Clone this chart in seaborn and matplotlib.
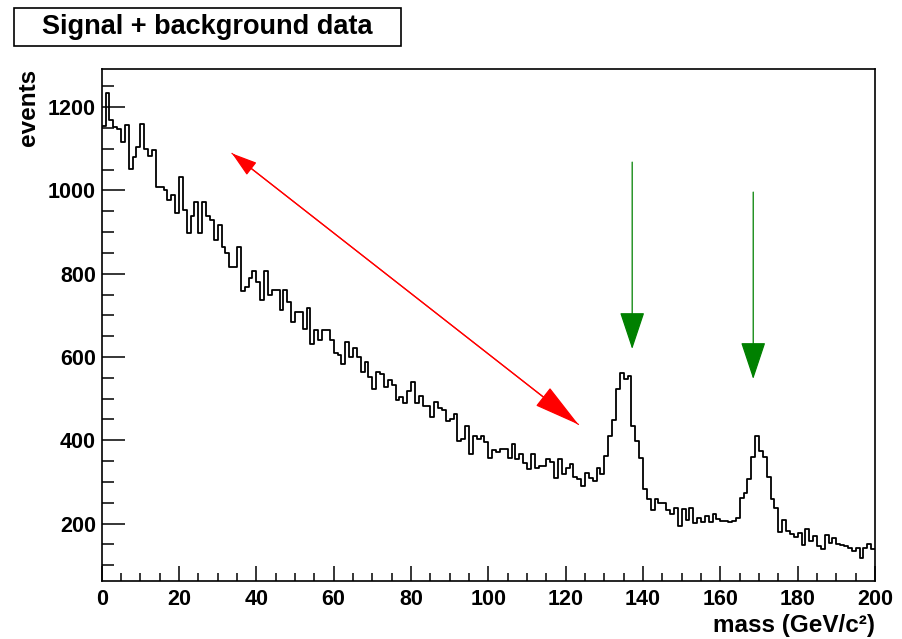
###Signal + background mass spectrum, ROOT style histogram redrawn with seaborn
import pandas as pd
import matplotlib
matplotlib.use("Agg")
import matplotlib.pyplot as plt
from matplotlib.patches import Rectangle
from matplotlib.ticker import MultipleLocator
import seaborn as sns

##Data
#bin contents, 200 bins of 1 GeV/c^2 between 0 and 200
counts = [
    1155, 1235, 1168, 1152, 1148, 1116, 1156, 1052, 1080, 1104,
    1160, 1100, 1082, 1096, 1008, 1008, 1000, 976, 988, 945,
    1032, 953, 897, 938, 973, 897, 973, 938, 928, 881,
    917, 865, 850, 817, 817, 865, 759, 769, 789, 806,
    781, 737, 807, 749, 761, 761, 713, 761, 733, 685,
    709, 709, 668, 717, 632, 665, 641, 665, 665, 641,
    610, 605, 584, 635, 601, 621, 601, 565, 587, 553,
    523, 564, 560, 529, 545, 533, 497, 505, 489, 519,
    541, 489, 507, 483, 483, 456, 491, 477, 472, 446,
    451, 463, 398, 403, 434, 368, 410, 404, 410, 395,
    357, 376, 373, 378, 378, 358, 390, 355, 366, 346,
    330, 366, 334, 339, 338, 354, 347, 310, 354, 318,
    334, 344, 313, 306, 291, 322, 310, 302, 334, 318,
    362, 411, 449, 522, 561, 548, 555, 434, 398, 358,
    282, 258, 232, 258, 250, 250, 232, 222, 238, 194,
    236, 208, 238, 202, 214, 203, 219, 203, 224, 210,
    206, 206, 204, 205, 214, 262, 274, 307, 360, 410,
    374, 360, 312, 260, 238, 180, 208, 182, 174, 168,
    178, 148, 188, 158, 170, 146, 138, 172, 154, 166,
    150, 148, 146, 142, 134, 142, 118, 142, 150, 140,
]
#bin centres, 0.5 ... 199.5
mass = [i + 0.5 for i in range(len(counts))]
hist_df = pd.DataFrame({'mass': mass, 'events': counts})

#annotation arrows (data coordinates)
red_tail = (33.7, 1089)
red_tip = (123.3, 438)
green_x = [137.2, 168.5]
green_top = [1068, 996]
green_tip = [619, 547]

##Style
sns.set_style("white")
plt.rcParams['font.family'] = ['Liberation Sans', 'DejaVu Sans']
plt.rcParams['font.weight'] = 'bold'
plt.rcParams['text.color'] = 'black'
plt.rcParams['axes.labelcolor'] = 'black'
plt.rcParams['xtick.color'] = 'black'
plt.rcParams['ytick.color'] = 'black'

fig = plt.figure(figsize=(9.02, 6.39), dpi=100)
ax = fig.add_axes([0.1127, 0.0908, 0.8574, 0.8007])

##Histogram
sns.histplot(data=hist_df, x='mass', weights='events', binwidth=1, binrange=(0, 200),
             element="step", fill=False, color="black", linewidth=1.3, ax=ax)

#ROOT-like y range: 5% margin around min and max
ymin, ymax = min(counts), max(counts)
margin = 0.05 * (ymax - ymin)
ax.set_xlim(0, 200)
ax.set_ylim(ymin - margin, ymax + margin)

##Arrows
ax.annotate("", xy=red_tip, xytext=red_tail,
            arrowprops=dict(arrowstyle="-|>,head_length=30,head_width=7.5",
                            mutation_scale=1, color="red", lw=0.9,
                            shrinkA=0, shrinkB=0))
ax.annotate("", xy=red_tail, xytext=red_tip,
            arrowprops=dict(arrowstyle="-|>,head_length=16,head_width=5",
                            mutation_scale=1, color="red", lw=0.9,
                            shrinkA=0, shrinkB=0))
for gx, gt, gb in zip(green_x, green_top, green_tip):
    ax.annotate("", xy=(gx, gb), xytext=(gx, gt),
                arrowprops=dict(arrowstyle="-|>,head_length=24,head_width=8",
                                mutation_scale=1, color="green", lw=0.9,
                                shrinkA=0, shrinkB=0))

##Axes
for side in ['top', 'right', 'bottom', 'left']:
    ax.spines[side].set_visible(True)
    ax.spines[side].set_linewidth(1.2)
    ax.spines[side].set_color('black')

ax.xaxis.set_major_locator(MultipleLocator(20))
ax.xaxis.set_minor_locator(MultipleLocator(5))
ax.yaxis.set_major_locator(MultipleLocator(200))
ax.yaxis.set_minor_locator(MultipleLocator(50))
ax.tick_params(axis='x', which='major', direction='in', length=11, width=1.1,
               labelsize=15.5, pad=6, bottom=True, top=False)
ax.tick_params(axis='x', which='minor', direction='in', length=6, width=1.1,
               bottom=True, top=False)
ax.tick_params(axis='y', which='major', direction='in', length=16.5, width=1.1,
               labelsize=15.5, pad=4, left=True, right=False)
ax.tick_params(axis='y', which='minor', direction='in', length=8.5, width=1.1,
               left=True, right=False)
for lab in ax.get_xticklabels() + ax.get_yticklabels():
    lab.set_fontweight('bold')

ax.set_xlabel("mass (GeV/c²)", loc="right", fontsize=17.5, fontweight="bold", labelpad=3)
ax.set_ylabel("events", loc="top", fontsize=17.5, fontweight="bold", labelpad=6)

##Title box
fig.patches.append(Rectangle((0.0155, 0.928), 0.429, 0.059, transform=fig.transFigure,
                             facecolor='white', edgecolor='black', linewidth=1.2))
fig.text(0.230, 0.957, "Signal + background data", ha='center', va='center',
         fontsize=19.5, fontweight='bold')

fig.savefig("out.png", dpi=100)
